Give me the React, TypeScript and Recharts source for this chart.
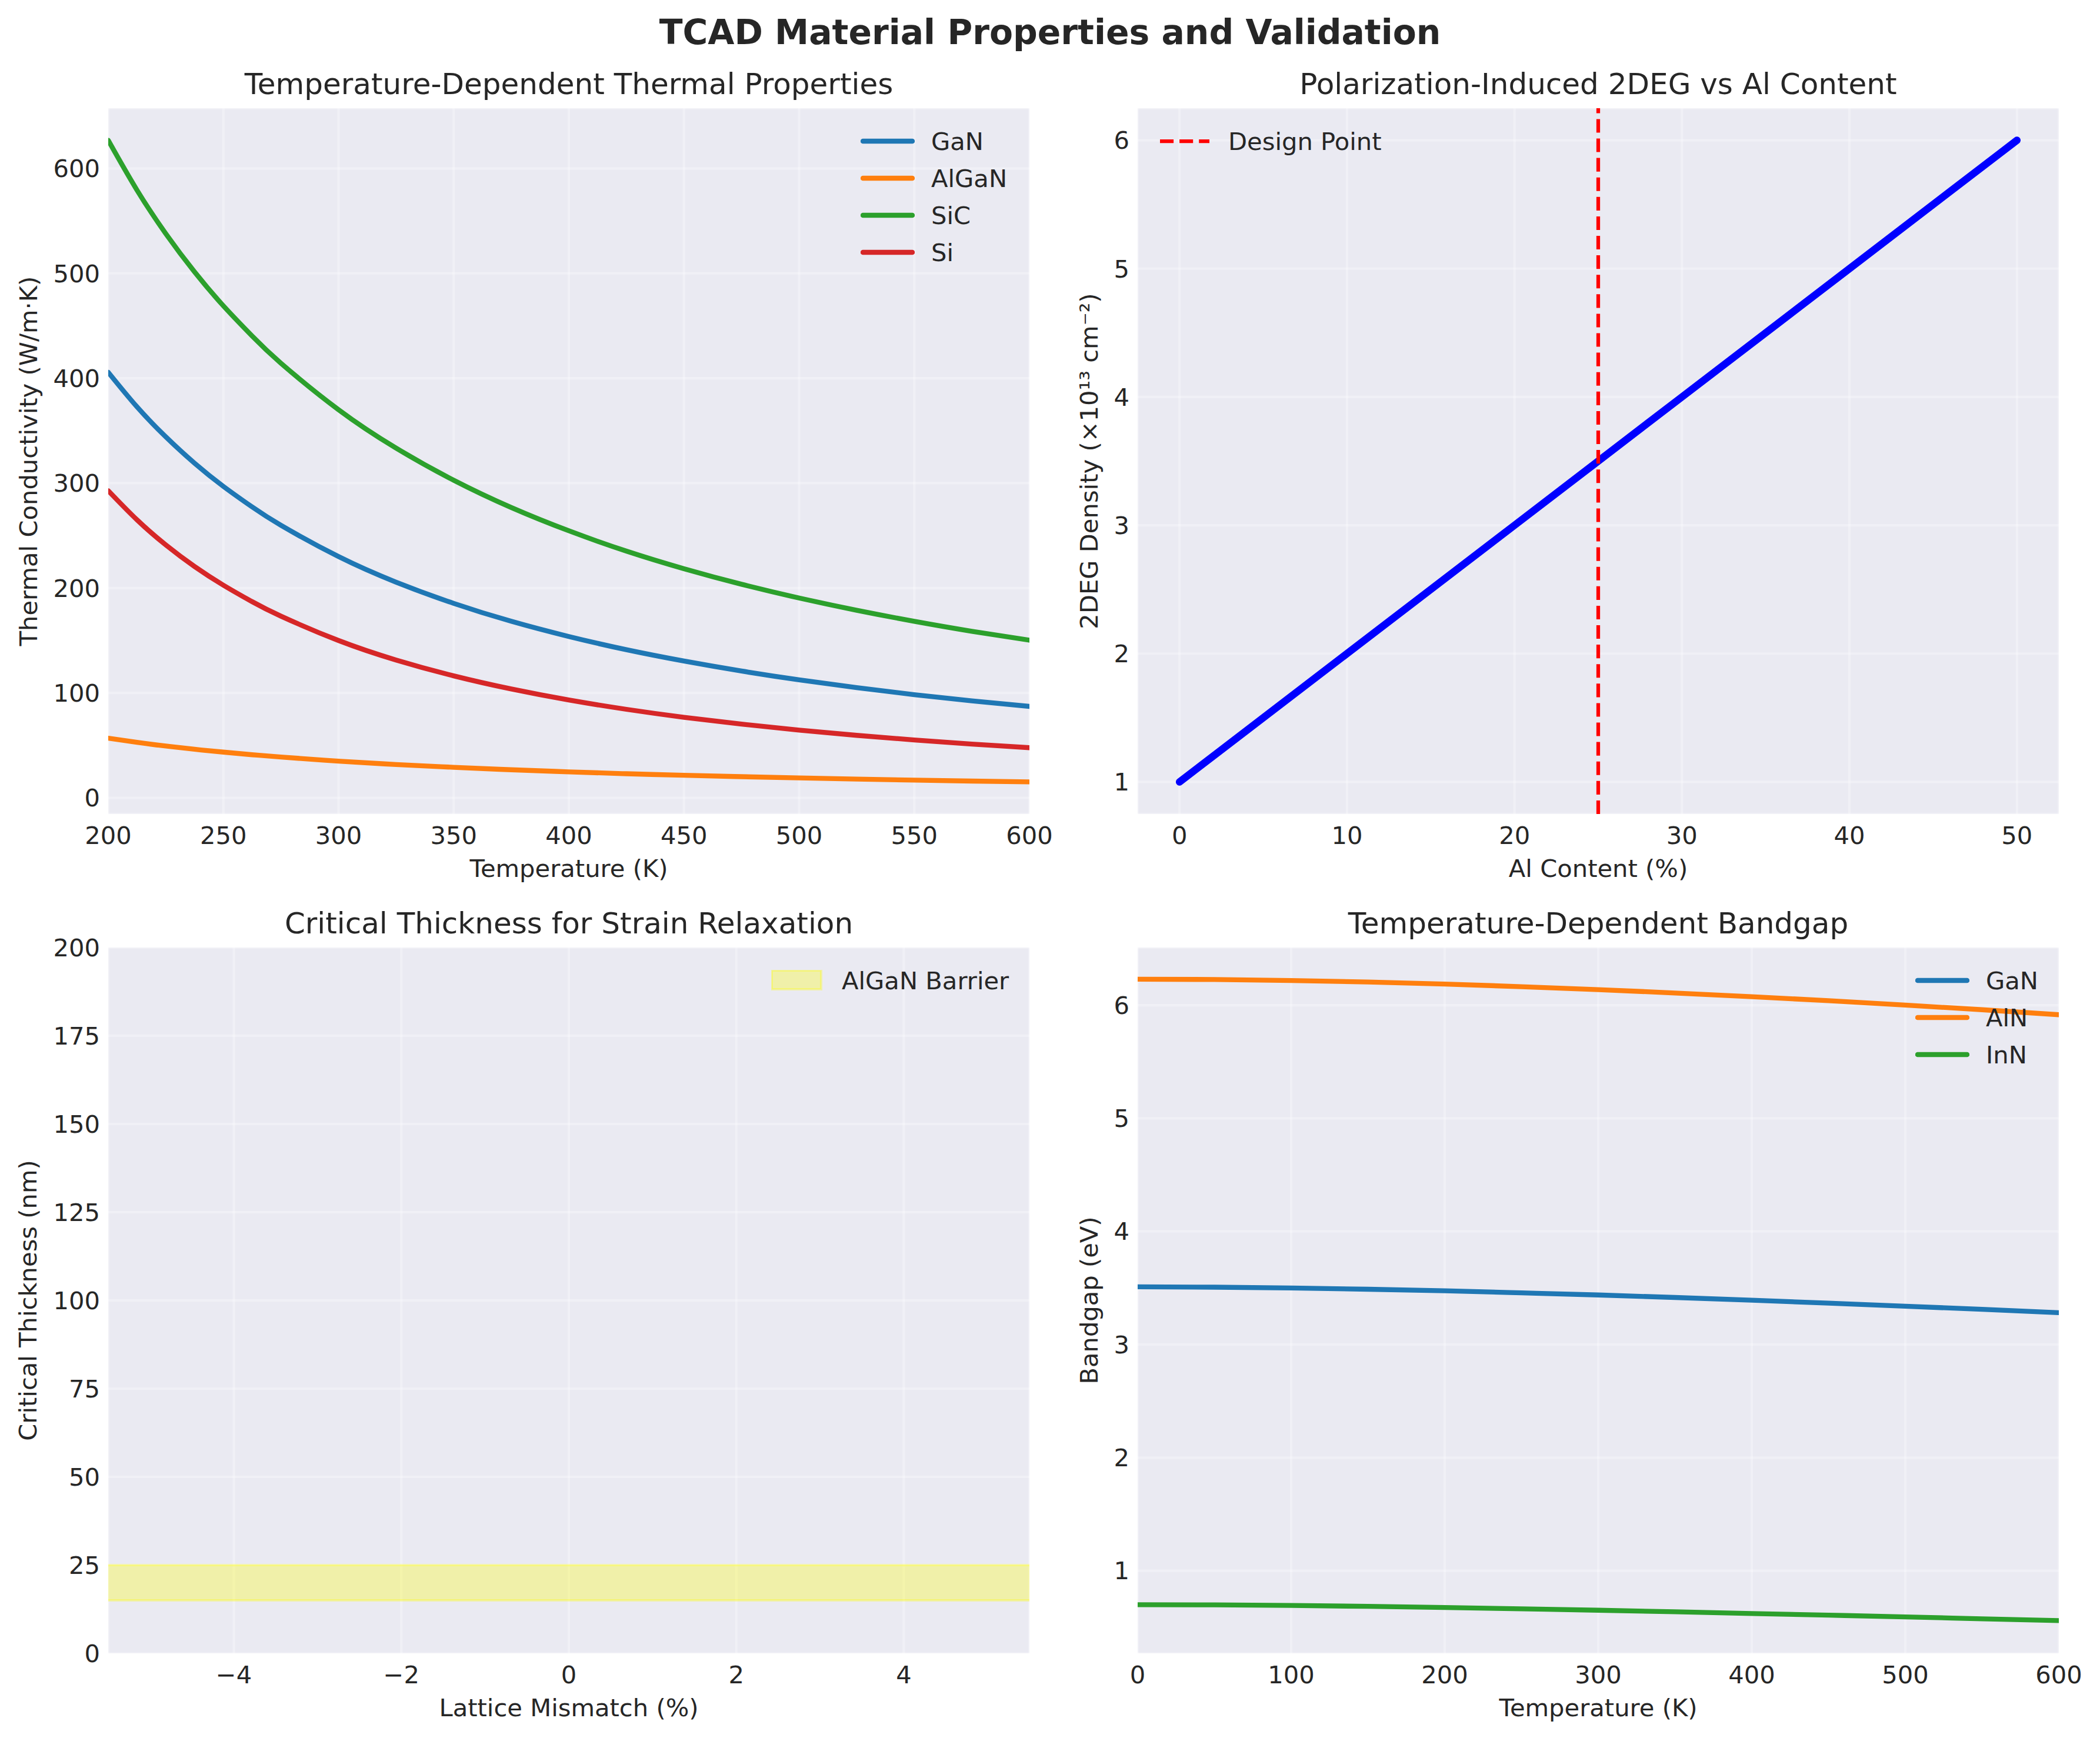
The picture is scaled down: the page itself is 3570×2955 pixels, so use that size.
import { Area, CartesianGrid, ComposedChart, Legend, Line, XAxis, YAxis } from "recharts"

const FONT = "'DejaVu Sans', sans-serif"
const TEXT = "#262626"
const PANEL = "#EAEAF2"
const LW = 8.33

const tempK = [200, 212.5, 225, 237.5, 250, 262.5, 275, 300, 325, 350, 375, 400, 425, 450, 475, 500, 525, 550, 575, 600]
const kGaN = [405.7, 372.7, 344.1, 319, 296.9, 277.3, 259.8, 230, 205.6, 185.4, 168.3, 153.8, 141.2, 130.4, 120.9, 112.5, 105.1, 98.4, 92.5, 87.2]
const kAlGaN = [56.9, 52.9, 49.4, 46.3, 43.6, 41.1, 38.9, 35, 31.8, 29.1, 26.8, 24.8, 23, 21.5, 20.2, 19, 17.9, 16.9, 16, 15.2]
const kSiC = [626.8, 579.3, 537.8, 501.3, 469, 440.2, 414.3, 370, 333.4, 302.8, 276.8, 254.6, 235.2, 218.4, 203.6, 190.5, 178.8, 168.3, 158.8, 150.3]
const kSi = [292.8, 265, 241.1, 220.5, 202.7, 187, 173.2, 150, 131.4, 116.3, 103.8, 93.3, 84.4, 76.8, 70.3, 64.6, 59.6, 55.2, 51.3, 47.8]

const alContent = [0, 10, 20, 25, 30, 40, 50]
const density = [1, 2, 3, 3.5, 4, 5, 6]
const designX = [25, 25]
const designY = [0.75, 6.25]

const mismatch = [-5.5, 5.5]
const barrierLow = [15, 15]
const barrierHigh = [25, 25]

const bandT = [0, 50, 100, 150, 200, 250, 300, 350, 400, 450, 500, 550, 600]
const egGaN = [3.51, 3.507, 3.5, 3.489, 3.475, 3.457, 3.438, 3.416, 3.392, 3.366, 3.339, 3.311, 3.281]
const egAlN = [6.23, 6.227, 6.218, 6.205, 6.187, 6.164, 6.138, 6.108, 6.075, 6.04, 6.001, 5.96, 5.916]
const egInN = [0.7, 0.698, 0.693, 0.685, 0.675, 0.663, 0.651, 0.637, 0.622, 0.607, 0.592, 0.575, 0.559]

const thermalData = tempK.map((t, i) => ({ t, GaN: kGaN[i], AlGaN: kAlGaN[i], SiC: kSiC[i], Si: kSi[i] }))
const densityData = alContent.map((al, i) => ({ al, n: density[i] }))
const designData = designX.map((al, i) => ({ al, n: designY[i] }))
const barrierData = mismatch.map((m, i) => ({ m, band: [barrierLow[i], barrierHigh[i]] }))
const bandgapData = bandT.map((t, i) => ({ t, GaN: egGaN[i], AlN: egAlN[i], InN: egInN[i] }))

const axisProps = {
  type: "number" as const,
  allowDataOverflow: true,
  axisLine: false,
  tickLine: false,
  tickSize: 0,
  interval: 0 as const,
  tick: { fill: TEXT, fontSize: 41.67, fontFamily: FONT },
}

// the plot area starts at (AXIS_W, PAD) inside each chart, PAD leaves room for edge tick labels
const PAD = 40
const CHART_W = 1750 + PAD
const AXIS_W = 184
const PLOT_H = 1200
const X_AXIS_H = 120
const CHART_H = PAD + PLOT_H + X_AXIS_H

function legendContent(left: number, top: number, dashed = false) {
  return ({ payload }: any) => (
    <div style={{ position: "absolute", left, top: top + PAD, fontFamily: FONT, fontSize: 41.67, color: TEXT }}>
      {(payload ?? [])
        .filter((p: any) => p.type !== "none")
        .map((p: any) => (
          <div key={p.value} style={{ display: "flex", alignItems: "center", height: 62.9, whiteSpace: "nowrap" }}>
            <svg width={dashed ? 84 : 92} height={36} style={{ marginRight: dashed ? 32 : 28 }}>
              {p.type === "rect" ? (
                <rect x={1} y={1} width={84} height={32} fill="yellow" fillOpacity={0.3} stroke="yellow" strokeOpacity={0.3} strokeWidth={4} />
              ) : dashed ? (
                <line x1={0} x2={84} y1={18} y2={18} stroke={p.color} strokeWidth={6.25} strokeDasharray="23.1 10" />
              ) : (
                <line x1={4} x2={88} y1={18} y2={18} stroke={p.color} strokeWidth={LW} strokeLinecap="round" />
              )}
            </svg>
            {p.value}
          </div>
        ))}
    </div>
  )
}

function Title({ x, y, size, bold, children }: any) {
  return (
    <div
      style={{
        position: "absolute",
        left: x - 1000,
        top: y - 50,
        width: 2000,
        height: 100,
        lineHeight: "100px",
        textAlign: "center",
        fontFamily: FONT,
        fontSize: size,
        fontWeight: bold ? 700 : 400,
        color: TEXT,
        whiteSpace: "nowrap",
      }}
    >
      {children}
    </div>
  )
}

function Panel({ left, top, data, xKey, xDomain, xTicks, xLabel, yDomain, yTicks, yLabel, yLabelDx, xFormat, children }: any) {
  return (
    <div style={{ position: "absolute", left, top: top - PAD }}>
      <ComposedChart
        width={CHART_W}
        height={CHART_H}
        data={data}
        margin={{ top: PAD, right: PAD, bottom: 0, left: 0 }}
      >
        <CartesianGrid fill={PANEL} fillOpacity={1} stroke="#ffffff" strokeOpacity={0.3} strokeWidth={4.17} />
        <XAxis
          {...axisProps}
          dataKey={xKey}
          domain={xDomain}
          ticks={xTicks}
          height={X_AXIS_H}
          tickMargin={21}
          tickFormatter={xFormat}
          label={{ value: xLabel, position: "center", dy: 32, fill: TEXT, fontSize: 41.67, fontFamily: FONT }}
        />
        <YAxis
          {...axisProps}
          domain={yDomain}
          ticks={yTicks}
          width={AXIS_W}
          tickMargin={14}
          label={{ value: yLabel, position: "center", angle: -90, dx: yLabelDx, fill: TEXT, fontSize: 41.67, fontFamily: FONT }}
        />
        {children}
      </ComposedChart>
    </div>
  )
}

const legendProps = {
  layout: "horizontal" as const,
  verticalAlign: "middle" as const,
  align: "center" as const,
  itemSorter: null,
  wrapperStyle: { left: 0, top: 0, width: 0, height: 0 },
}

const seriesLine = (key: string, color: string) => (
  <Line
    key={key}
    type="natural"
    dataKey={key}
    name={key}
    stroke={color}
    strokeWidth={LW}
    strokeLinecap="round"
    strokeLinejoin="round"
    dot={false}
    activeDot={false}
    isAnimationActive={false}
  />
)

export default function App() {
  return (
    <div style={{ position: "absolute", left: 0, top: 0, width: 3570, height: 2955, background: "#ffffff", overflow: "hidden" }}>
      <Title x={1785} y={55} size={58.33} bold>
        TCAD Material Properties and Validation
      </Title>

      <Title x={967} y={143} size={50}>Temperature-Dependent Thermal Properties</Title>
      <Panel
        left={0}
        top={184}
        data={thermalData}
        xKey="t"
        xDomain={[200, 600]}
        xTicks={[200, 250, 300, 350, 400, 450, 500, 550, 600]}
        xLabel="Temperature (K)"
        yDomain={[-15.4, 657.4]}
        yTicks={[0, 100, 200, 300, 400, 500, 600]}
        yLabel="Thermal Conductivity (W/m·K)"
        yLabelDx={-44}
      >
        {seriesLine("GaN", "#1f77b4")}
        {seriesLine("AlGaN", "#ff7f0e")}
        {seriesLine("SiC", "#2ca02c")}
        {seriesLine("Si", "#d62728")}
        <Legend {...legendProps} content={legendContent(1463, 25)} />
      </Panel>

      <Title x={2717} y={143} size={50}>Polarization-Induced 2DEG vs Al Content</Title>
      <Panel
        left={1750}
        top={184}
        data={densityData}
        xKey="al"
        xDomain={[-2.5, 52.5]}
        xTicks={[0, 10, 20, 30, 40, 50]}
        xLabel="Al Content (%)"
        yDomain={[0.75, 6.25]}
        yTicks={[1, 2, 3, 4, 5, 6]}
        yLabel="2DEG Density (×10¹³ cm⁻²)"
        yLabelDx={9}
      >
        <Line
          type="linear"
          dataKey="n"
          stroke="#0000ff"
          strokeWidth={12.5}
          strokeLinecap="round"
          dot={false}
          activeDot={false}
          legendType="none"
          isAnimationActive={false}
        />
        <Line
          type="linear"
          data={designData}
          dataKey="n"
          name="Design Point"
          stroke="#ff0000"
          strokeWidth={6.25}
          strokeDasharray="23.1 10"
          dot={false}
          activeDot={false}
          isAnimationActive={false}
        />
        <Legend {...legendProps} content={legendContent(222, 25, true)} />
      </Panel>

      <Title x={967} y={1570} size={50}>Critical Thickness for Strain Relaxation</Title>
      <Panel
        left={0}
        top={1611}
        data={barrierData}
        xKey="m"
        xDomain={[-5.5, 5.5]}
        xTicks={[-4, -2, 0, 2, 4]}
        xFormat={(v: number) => String(v).replace("-", "\u2212")}
        xLabel="Lattice Mismatch (%)"
        yDomain={[0, 200]}
        yTicks={[0, 25, 50, 75, 100, 125, 150, 175, 200]}
        yLabel="Critical Thickness (nm)"
        yLabelDx={-45}
      >
        <Area
          type="linear"
          dataKey="band"
          name="AlGaN Barrier"
          fill="#ffff00"
          fillOpacity={0.3}
          stroke="#ffff00"
          strokeOpacity={0.3}
          strokeWidth={4.17}
          legendType="rect"
          dot={false}
          activeDot={false}
          isAnimationActive={false}
        />
        <Legend {...legendProps} content={legendContent(1311, 25)} />
      </Panel>

      <Title x={2717} y={1570} size={50}>Temperature-Dependent Bandgap</Title>
      <Panel
        left={1750}
        top={1611}
        data={bandgapData}
        xKey="t"
        xDomain={[0, 600]}
        xTicks={[0, 100, 200, 300, 400, 500, 600]}
        xLabel="Temperature (K)"
        yDomain={[0.27, 6.51]}
        yTicks={[1, 2, 3, 4, 5, 6]}
        yLabel="Bandgap (eV)"
        yLabelDx={9}
      >
        {seriesLine("GaN", "#1f77b4")}
        {seriesLine("AlN", "#ff7f0e")}
        {seriesLine("InN", "#2ca02c")}
        <Legend {...legendProps} content={legendContent(1506, 25)} />
      </Panel>
    </div>
  )
}
